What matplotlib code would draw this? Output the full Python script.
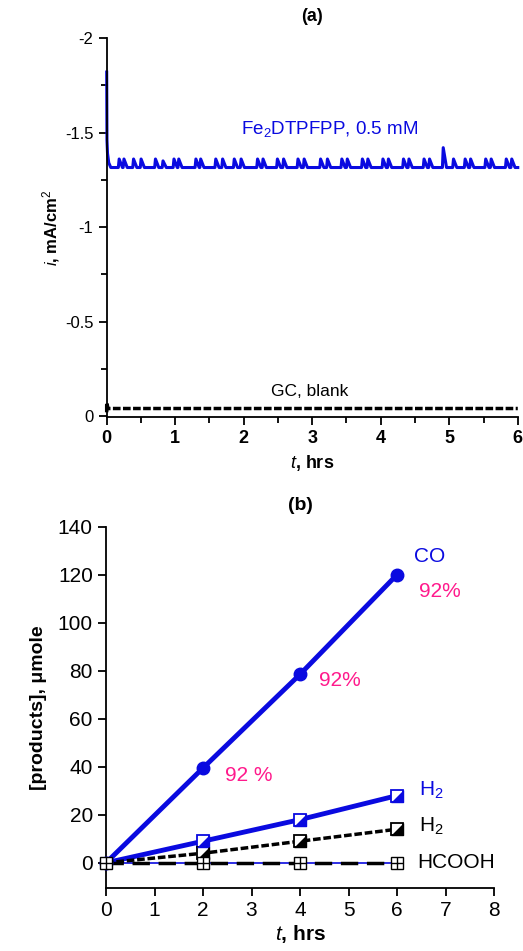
import matplotlib
matplotlib.use("Agg")
import matplotlib.pyplot as plt
from matplotlib.ticker import MultipleLocator

plt.rcParams['font.family'] = ['Liberation Sans', 'DejaVu Sans']
plt.rcParams['mathtext.fontset'] = 'custom'
plt.rcParams['mathtext.rm'] = 'Liberation Sans'
plt.rcParams['mathtext.it'] = 'Liberation Sans:italic'
plt.rcParams['mathtext.bf'] = 'Liberation Sans:bold'

BLUE = '#0a0ae0'
PINK = '#ff1a8c'

# ---- panel (a): current trace during electrolysis ----
start_t = [0.0, 0.004, 0.012, 0.03, 0.06]
start_i = [-1.82, -1.46, -1.39, -1.34, -1.315]
tooth_t = [0.17, 0.24, 0.38, 0.49, 0.70, 0.81, 0.97, 1.04, 1.29, 1.36,
           1.58, 1.68, 1.85, 1.95, 2.19, 2.27, 2.48, 2.57, 2.78, 2.87,
           3.11, 3.21, 3.42, 3.50, 3.72, 3.80, 4.02, 4.10, 4.32, 4.40,
           4.62, 4.70, 4.90, 5.05, 5.22, 5.30, 5.52, 5.60, 5.82, 5.90]
tooth_peak = [-1.36, -1.36, -1.36, -1.36, -1.36, -1.35, -1.36, -1.36, -1.36, -1.36,
              -1.36, -1.36, -1.36, -1.36, -1.36, -1.36, -1.36, -1.36, -1.36, -1.36,
              -1.36, -1.36, -1.36, -1.36, -1.36, -1.36, -1.36, -1.36, -1.36, -1.36,
              -1.36, -1.36, -1.42, -1.36, -1.36, -1.36, -1.36, -1.36, -1.36, -1.36]
base_i = -1.315
blank_t = [0.0, 0.0, 0.02, 6.0]
blank_i = [-0.02, -0.07, -0.04, -0.04]

# ---- panel (b): products vs time ----
time_h = [0, 2, 4, 6]
co = [0, 39.5, 78.5, 120]
h2_cat = [0, 9, 18, 28]
h2_blank = [0, 4, 9, 14]
hcooh = [0, 0, 0, 0]

fig = plt.figure(figsize=(5.23, 9.51), dpi=100)

# panel (a)
ax1 = fig.add_axes([0.204, 0.5615, 0.786, 0.3985])
tt = list(start_t)
ii = list(start_i)
for t0, pk in zip(tooth_t, tooth_peak):
    tt += [t0, t0 + 0.012, t0 + 0.06]
    ii += [base_i, pk, base_i]
tt.append(6.0)
ii.append(base_i)
ax1.plot(tt, ii, color=BLUE, lw=2.2, clip_on=False)
ax1.plot(blank_t, blank_i, color='black', lw=2.5, ls=(0, (2.2, 0.7)), clip_on=False)

ax1.set_xlim(0, 6)
ax1.set_ylim(0.005, -2)
ax1.xaxis.set_major_locator(MultipleLocator(1))
ax1.xaxis.set_minor_locator(MultipleLocator(0.5))
ax1.yaxis.set_major_locator(MultipleLocator(0.5))
ax1.yaxis.set_minor_locator(MultipleLocator(0.25))
ax1.set_yticks([0, -0.5, -1, -1.5, -2])
ax1.set_yticklabels(['0', '-0.5', '-1', '-1.5', '-2'])
for lab in ax1.get_xticklabels():
    lab.set_fontweight('bold')
ax1.tick_params(axis='x', labelsize=13)
ax1.tick_params(axis='y', labelsize=12)
ax1.set_xlabel('$\\mathit{t}$, hrs', fontsize=13, fontweight='bold', labelpad=4)
ax1.set_ylabel('$\\mathit{i}$, mA/cm$^2$', fontsize=12, fontweight='bold', labelpad=2)
ax1.set_title('(a)', fontsize=13, fontweight='bold', pad=12)
ax1.text(3.26, -1.52, 'Fe$_2$DTPFPP, 0.5 mM', color=BLUE, fontsize=13.5,
         ha='center', va='center')
ax1.text(2.97, -0.13, 'GC, blank', color='black', fontsize=12.5,
         ha='center', va='center')

# panel (b)
ax2 = fig.add_axes([0.2027, 0.0662, 0.7419, 0.38])
ax2.plot(time_h, co, color=BLUE, lw=3.5, marker='o', ms=9, clip_on=False, zorder=4)
tri = [(1, 1), (1, -1), (-1, -1)]
ax2.plot(time_h, h2_cat, color=BLUE, lw=3.5, zorder=3)
ax2.plot(time_h[1:], h2_cat[1:], ls='none', marker='s', ms=8.5, mfc='white',
         mec=BLUE, mew=1.3, zorder=5)
ax2.plot(time_h[1:], h2_cat[1:], ls='none', marker=tri, ms=8, color=BLUE, zorder=6)
ax2.plot(time_h, h2_blank, color='black', lw=2.5, ls=(0, (2.2, 0.8)), zorder=3)
ax2.plot(time_h[1:], h2_blank[1:], ls='none', marker='s', ms=8.5, mfc='white',
         mec='black', mew=1.3, zorder=5)
ax2.plot(time_h[1:], h2_blank[1:], ls='none', marker=tri, ms=8, color='black', zorder=6)
ax2.plot(time_h, hcooh, color=BLUE, lw=1.2, zorder=2)
ax2.plot(time_h, hcooh, color='black', lw=2.5, ls=(0, (5, 2.5)), zorder=3)
ax2.plot(time_h, hcooh, ls='none', marker='s', ms=9, mfc='white', mec='black',
         mew=1.0, clip_on=False, zorder=7)
ax2.plot(time_h, hcooh, ls='none', marker='+', ms=9, color='black', mew=1.0,
         clip_on=False, zorder=8)

ax2.set_xlim(0, 8)
ax2.set_ylim(-10.5, 140)
ax2.set_xticks(range(0, 9))
ax2.set_yticks(range(0, 141, 20))
ax2.tick_params(labelsize=15)
ax2.set_xlabel('$\\mathit{t}$, hrs', fontsize=15, fontweight='bold', labelpad=2)
ax2.set_ylabel('[products], μmole', fontsize=14, fontweight='bold', labelpad=8)
ax2.set_title('(b)', fontsize=14, fontweight='bold', pad=12)
ax2.text(6.35, 127.4, 'CO', color=BLUE, fontsize=15, va='center')
ax2.text(6.45, 113, '92%', color=PINK, fontsize=15, va='center')
ax2.text(4.4, 76, '92%', color=PINK, fontsize=15, va='center')
ax2.text(2.45, 36.5, '92 %', color=PINK, fontsize=15, va='center')
ax2.text(6.45, 30, 'H$_2$', color=BLUE, fontsize=15, va='center')
ax2.text(6.45, 15, 'H$_2$', color='black', fontsize=15, va='center')
ax2.text(6.41, 0.3, 'HCOOH', color='black', fontsize=15, va='center')

for ax in (ax1, ax2):
    ax.spines['top'].set_visible(False)
    ax.spines['right'].set_visible(False)
    for s in ('left', 'bottom'):
        ax.spines[s].set_linewidth(1.3)
    ax.tick_params(which='major', direction='out', length=6, width=1.3)
    ax.tick_params(which='minor', direction='out', length=4, width=1.3)

fig.savefig('out.png', dpi=100)
